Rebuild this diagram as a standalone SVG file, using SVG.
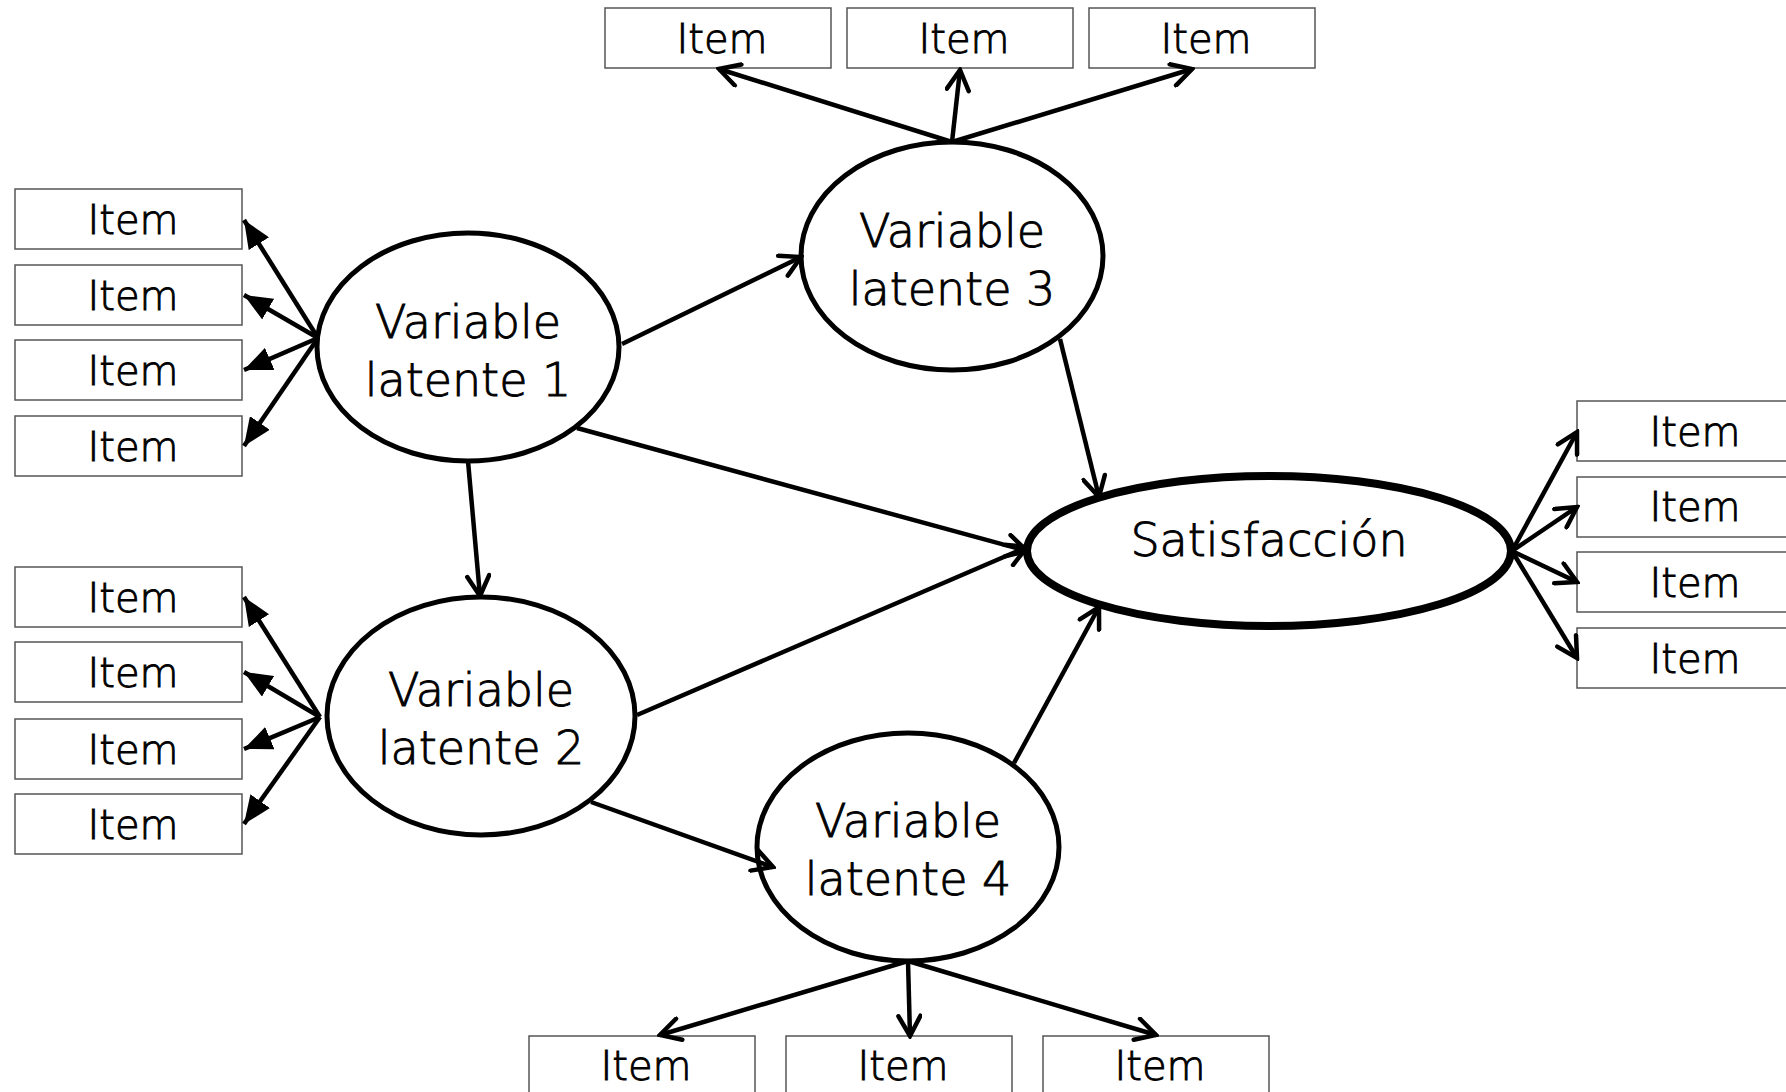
<svg xmlns="http://www.w3.org/2000/svg" width="1786" height="1092" viewBox="0 0 1786 1092">
<defs>
<style>
.box{fill:#fff;stroke:#555;stroke-width:1.5}
.it{font-family:"DejaVu Sans",sans-serif;font-weight:200;font-size:40px;text-anchor:middle;fill:#000;stroke:#000;stroke-width:0.9}
.lv{fill:#fff;stroke:#000;stroke-width:5}
.sat{fill:#fff;stroke:#000;stroke-width:8}
.lt{font-family:"DejaVu Sans",sans-serif;font-weight:200;font-size:46px;text-anchor:middle;fill:#000;stroke:#000;stroke-width:0.9}
.c{stroke:#000;stroke-width:4.5;fill:none;marker-end:url(#open)}
.cf{stroke:#000;stroke-width:4.5;fill:none;marker-end:url(#tri)}
</style>
<marker id="open" markerUnits="userSpaceOnUse" viewBox="0 0 26 26" markerWidth="26" markerHeight="26" refX="23" refY="13" orient="auto">
<path d="M3,2 L23,13 L3,24" fill="none" stroke="#000" stroke-width="4.5" stroke-linecap="round" stroke-linejoin="miter"/>
</marker>
<marker id="tri" markerUnits="userSpaceOnUse" viewBox="0 0 28 24" markerWidth="28" markerHeight="24" refX="28" refY="12" orient="auto">
<path d="M0,0 L28,12 L0,24 Z" fill="#000"/>
</marker>
</defs>

<g id="vl1"><ellipse class="lv" cx="468" cy="347" rx="151" ry="114"/><text class="lt" x="468" y="338">Variable</text><text class="lt" x="468" y="396">latente 1</text></g>
<g id="vl3"><ellipse class="lv" cx="952" cy="256" rx="151" ry="114"/><text class="lt" x="952" y="247">Variable</text><text class="lt" x="952" y="305">latente 3</text></g>
<g id="vl2"><ellipse class="lv" cx="481" cy="716" rx="154" ry="119"/><text class="lt" x="481" y="706">Variable</text><text class="lt" x="481" y="764">latente 2</text></g>
<g id="vl4"><ellipse class="lv" cx="908" cy="847" rx="151" ry="114"/><text class="lt" x="908" y="837">Variable</text><text class="lt" x="908" y="895">latente 4</text></g>
<g id="satisfaccion"><ellipse class="sat" cx="1269" cy="551" rx="242" ry="75"/><text class="lt" x="1269" y="556">Satisfacción</text></g>

<g id="item-l1"><rect class="box" x="15" y="189" width="227" height="60"/><text class="it" x="133" y="234">Item</text></g>
<g id="item-l2"><rect class="box" x="15" y="265" width="227" height="60"/><text class="it" x="133" y="310">Item</text></g>
<g id="item-l3"><rect class="box" x="15" y="340" width="227" height="60"/><text class="it" x="133" y="385">Item</text></g>
<g id="item-l4"><rect class="box" x="15" y="416" width="227" height="60"/><text class="it" x="133" y="461">Item</text></g>
<g id="item-l5"><rect class="box" x="15" y="567" width="227" height="60"/><text class="it" x="133" y="612">Item</text></g>
<g id="item-l6"><rect class="box" x="15" y="642" width="227" height="60"/><text class="it" x="133" y="687">Item</text></g>
<g id="item-l7"><rect class="box" x="15" y="719" width="227" height="60"/><text class="it" x="133" y="764">Item</text></g>
<g id="item-l8"><rect class="box" x="15" y="794" width="227" height="60"/><text class="it" x="133" y="839">Item</text></g>
<g id="item-t1"><rect class="box" x="605" y="8" width="226" height="60"/><text class="it" x="722" y="53">Item</text></g>
<g id="item-t2"><rect class="box" x="847" y="8" width="226" height="60"/><text class="it" x="964" y="53">Item</text></g>
<g id="item-t3"><rect class="box" x="1089" y="8" width="226" height="60"/><text class="it" x="1206" y="53">Item</text></g>
<g id="item-r1"><rect class="box" x="1577" y="401" width="226" height="60"/><text class="it" x="1695" y="446">Item</text></g>
<g id="item-r2"><rect class="box" x="1577" y="477" width="226" height="60"/><text class="it" x="1695" y="521">Item</text></g>
<g id="item-r3"><rect class="box" x="1577" y="552" width="226" height="60"/><text class="it" x="1695" y="597">Item</text></g>
<g id="item-r4"><rect class="box" x="1577" y="628" width="226" height="60"/><text class="it" x="1695" y="673">Item</text></g>
<g id="item-b1"><rect class="box" x="529" y="1036" width="226" height="70"/><text class="it" x="646" y="1080">Item</text></g>
<g id="item-b2"><rect class="box" x="786" y="1036" width="226" height="70"/><text class="it" x="903" y="1080">Item</text></g>
<g id="item-b3"><rect class="box" x="1043" y="1036" width="226" height="70"/><text class="it" x="1160" y="1080">Item</text></g>

<g id="connectors">
<line class="cf" x1="318" y1="338" x2="244" y2="220"/>
<line class="cf" x1="318" y1="338" x2="244" y2="295"/>
<line class="cf" x1="318" y1="338" x2="244" y2="370"/>
<line class="cf" x1="318" y1="338" x2="244" y2="446"/>
<line class="cf" x1="320" y1="717" x2="244" y2="597"/>
<line class="cf" x1="320" y1="717" x2="244" y2="672"/>
<line class="cf" x1="320" y1="717" x2="244" y2="749"/>
<line class="cf" x1="320" y1="717" x2="244" y2="824"/>
<line class="c" x1="952" y1="142" x2="719" y2="69"/>
<line class="c" x1="952" y1="142" x2="960" y2="70"/>
<line class="c" x1="952" y1="142" x2="1192" y2="69"/>
<line class="c" x1="908" y1="961" x2="660" y2="1035"/>
<line class="c" x1="908" y1="961" x2="910" y2="1036"/>
<line class="c" x1="908" y1="961" x2="1156" y2="1035"/>
<line class="c" x1="1512" y1="551" x2="1577" y2="432"/>
<line class="c" x1="1512" y1="551" x2="1577" y2="507"/>
<line class="c" x1="1512" y1="551" x2="1577" y2="582"/>
<line class="c" x1="1512" y1="551" x2="1577" y2="658"/>
<line class="c" x1="622" y1="344" x2="801" y2="257"/>
<line class="c" x1="577" y1="428" x2="1027" y2="551"/>
<line class="c" x1="468" y1="461" x2="480" y2="596"/>
<line class="c" x1="1060" y1="339" x2="1099" y2="497"/>
<line class="c" x1="637" y1="715" x2="1027" y2="547"/>
<line class="c" x1="591" y1="802" x2="773" y2="867"/>
<line class="c" x1="1014" y1="763" x2="1099" y2="607"/>
</g>
</svg>
